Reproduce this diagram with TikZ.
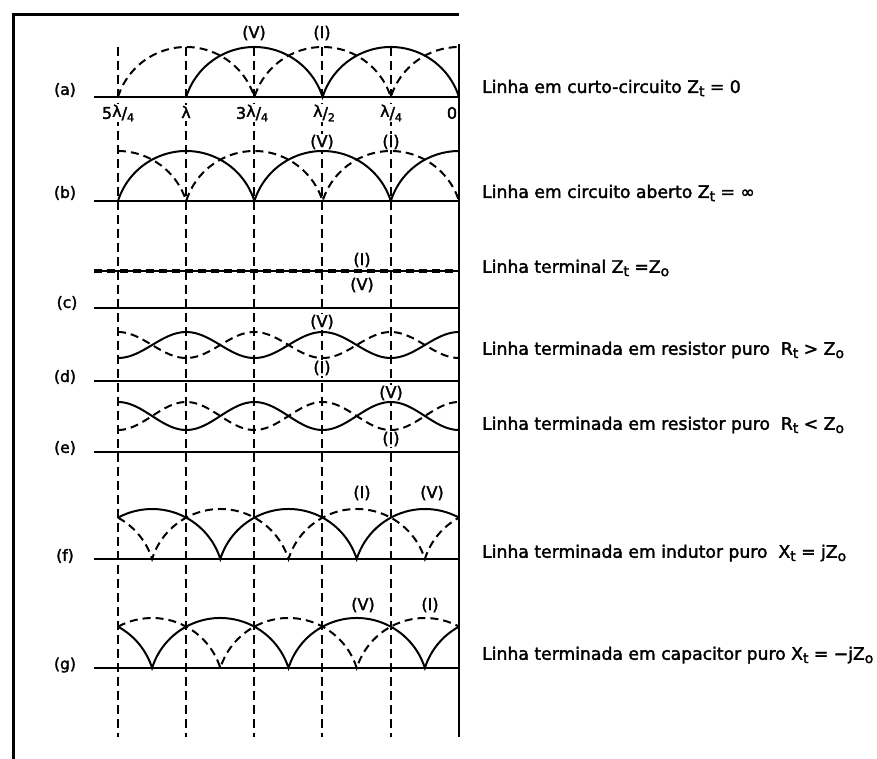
\documentclass[tikz,border=0pt]{standalone}
\usepackage{fontspec}
\setmainfont{DejaVu Sans}
\newfontfamily\descfont[FakeBold=2]{DejaVu Sans}
\newcommand\sbs[1]{\raisebox{-0.35ex}{\fontsize{14}{14}\selectfont #1}}
\newcommand\lfr[2]{#1\raisebox{2pt}{λ}/\raisebox{-2.5pt}{\fontsize{11}{11}\selectfont #2}}
\begin{document}
\begin{tikzpicture}[x=1pt,y=1pt,
  V/.style={line width=2pt},
  I/.style={line width=2pt, dash pattern=on 8pt off 5pt},
  guide/.style={line width=2.2pt, dash pattern=on 9pt off 5pt},
  baseln/.style={line width=2pt},
  frame/.style={line width=3pt},
  lab/.style={font=\descfont\fontsize{15.5}{17}\selectfont, inner sep=1pt},
  vi/.style={font=\descfont\fontsize{16}{17}\selectfont, inner sep=1pt},
  poslab/.style={font=\descfont\fontsize{16}{18}\selectfont, fill=white, inner sep=1pt},
  desc/.style={font=\descfont\fontsize{17.2}{20}\selectfont, anchor=west, inner sep=0pt}]
\useasboundingbox (0,0) rectangle (877,-758);
% frame
\draw[frame] (13,-770) -- (13,-14) -- (459,-14);
% guides
\foreach \gx in {118,186,254,322,391}
  \draw[guide] (\gx,-47) -- (\gx,-737);
\draw[frame, line width=2.4pt] (459,-44) -- (459,-737);
% baselines
\foreach \by in {97,201,308,381,452,559,668}
  \draw[baseln] (94,-\by) -- (459,-\by);
% (a)
\draw[V] (186.2,-97) arc(162.5:17.5:71.51) arc(162.5:17.5:71.51);
\draw[I] (118,-97) arc(162.5:17.5:71.51) arc(162.5:17.5:71.51) arc(162.5:90:71.51);
% (b)
\draw[V] (118,-201) arc(162.5:17.5:71.51) arc(162.5:17.5:71.51) arc(162.5:90:71.51);
\draw[I] (118,-151) arc(90:17.5:71.51) arc(162.5:17.5:71.51) arc(162.5:17.5:71.51);
% (c)
\draw[V] (94,-271) -- (459,-271);
\draw[I, line width=3.2pt] (94,-271) -- (459,-271);
% (d)
\draw[V] plot[domain=0:5, samples=121, smooth] ({118+68.2*\x}, {-345+13*cos(180*(\x-1))});
\draw[I] plot[domain=0:5, samples=121, smooth] ({118+68.2*\x}, {-345-13*cos(180*(\x-1))});
% (e)
\draw[V] plot[domain=0:5, samples=121, smooth] ({118+68.2*\x}, {-416+14*cos(180*\x)});
\draw[I] plot[domain=0:5, samples=121, smooth] ({118+68.2*\x}, {-416-14*cos(180*\x)});
% (f)
\draw[V] (118,-517.65) arc(118.5:17.5:71.51) arc(162.5:17.5:71.51) arc(162.5:61.5:71.51);
\draw[I] (118,-517.65) arc(61.5:17.5:71.51) arc(162.5:17.5:71.51) arc(162.5:17.5:71.51) arc(162.5:118.5:71.51);
% (g)
\draw[V] (118,-626.65) arc(61.5:17.5:71.51) arc(162.5:17.5:71.51) arc(162.5:17.5:71.51) arc(162.5:118.5:71.51);
\draw[I] (118,-626.65) arc(118.5:17.5:71.51) arc(162.5:17.5:71.51) arc(162.5:61.5:71.51);
% position labels
\node[poslab] (p5) at (118,-113) {\lfr{5}{4}};
\node[poslab] (p4) at (186,-113) {\raisebox{2pt}{λ}};
\node[poslab] (p3) at (252,-113) {\lfr{3}{4}};
\node[poslab] (p2) at (324,-113) {\lfr{}{2}};
\node[poslab] (p1) at (391,-113) {\lfr{}{4}};
\node[poslab] (p0) at (452,-113) {0};
% V / I labels
\node[vi] (aV) at (254,-33) {(V)};
\node[vi] (aI) at (322,-33) {(I)};
\node[vi, fill=white] (bV) at (322,-142) {(V)};
\node[vi, fill=white] (bI) at (391,-142) {(I)};
\node[vi] (cI) at (362,-260) {(I)};
\node[vi] (cV) at (362,-285) {(V)};
\node[vi, fill=white] (dV) at (322,-322) {(V)};
\node[vi, fill=white] (dI) at (322,-368) {(I)};
\node[vi, fill=white] (eV) at (391,-393) {(V)};
\node[vi, fill=white] (eI) at (391,-439) {(I)};
\node[vi] (fI) at (362,-493) {(I)};
\node[vi] (fV) at (432,-493) {(V)};
\node[vi] (gV) at (363,-605) {(V)};
\node[vi] (gI) at (430,-605) {(I)};
% row labels
\node[lab] (la) at (65,-90) {(a)};
\node[lab] (lb) at (65,-193) {(b)};
\node[lab] (lc) at (67,-303) {(c)};
\node[lab] (ld) at (65,-377) {(d)};
\node[lab] (le) at (65,-448) {(e)};
\node[lab] (lf) at (65,-556) {(f)};
\node[lab] (lg) at (65,-665) {(g)};
% descriptions
\node[desc] (ta) at (482,-88) {Linha em curto-circuito Z\sbs{t} = 0};
\node[desc] (tb) at (482,-193) {Linha em circuito aberto Z\sbs{t} = ∞};
\node[desc] (tc) at (482,-268) {Linha terminal Z\sbs{t} =Z\sbs{o}};
\node[desc] (td) at (482,-350) {Linha terminada em resistor puro\ \ R\sbs{t} > Z\sbs{o}};
\node[desc] (te) at (482,-425) {Linha terminada em resistor puro\ \ R\sbs{t} < Z\sbs{o}};
\node[desc] (tf) at (482,-553) {Linha terminada em indutor puro\ \ X\sbs{t} = jZ\sbs{o}};
\node[desc] (tg) at (482,-655) {Linha terminada em capacitor puro X\sbs{t} = −jZ\sbs{o}};
\end{tikzpicture}
\end{document}
